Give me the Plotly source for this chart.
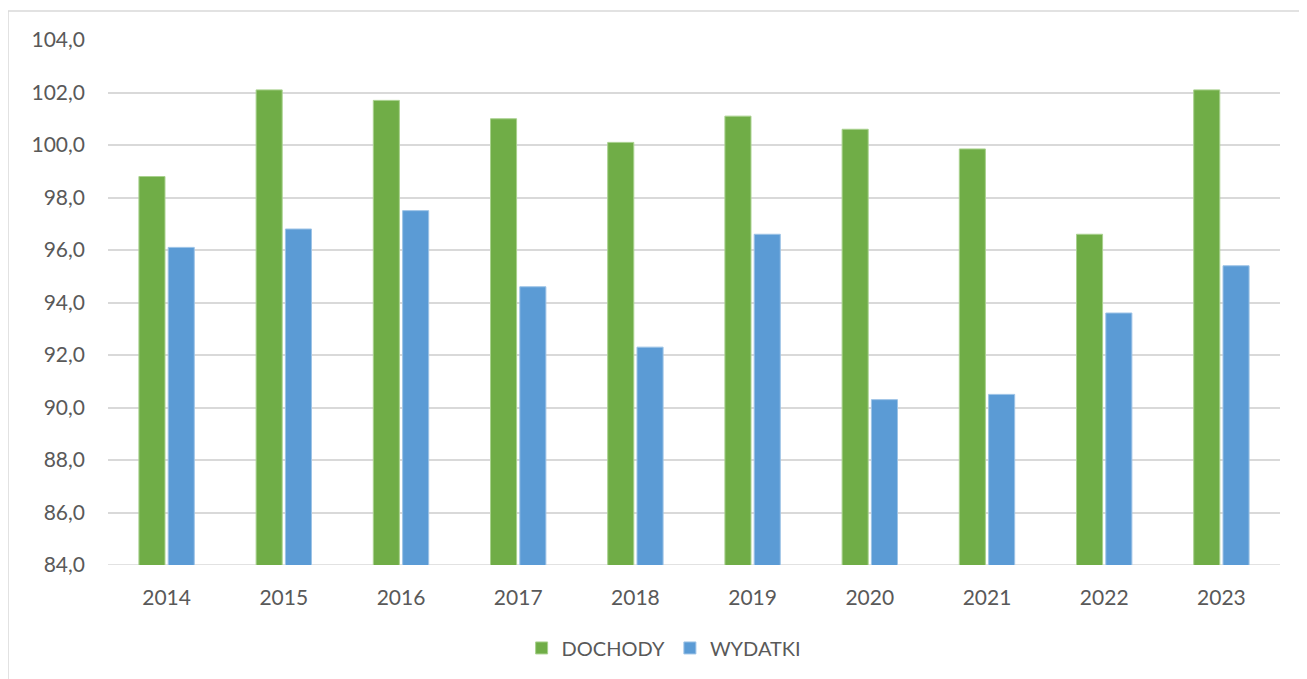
import plotly.graph_objects as go

years = ["2014", "2015", "2016", "2017", "2018", "2019", "2020", "2021", "2022", "2023"]
dochody = [98.8, 102.1, 101.7, 101.0, 100.1, 101.1, 100.6, 99.85, 96.6, 102.1]
wydatki = [96.1, 96.8, 97.5, 94.6, 92.3, 96.6, 90.3, 90.5, 93.6, 95.4]

font_family = "Lato, 'Open Sans', sans-serif"
txt = "#595959"

fig = go.Figure()
fig.add_trace(go.Bar(x=years, y=dochody, name="DOCHODY",
                     marker=dict(color="#70AD47", line=dict(color="#A9D18E", width=1))))
fig.add_trace(go.Bar(x=years, y=wydatki, name="WYDATKI",
                     marker=dict(color="#5B9BD5", line=dict(color="#9DC3E6", width=1))))

# body margin of 8px offsets the figure; compensate in margins
L, T, PW, PH = 100, 32, 1172, 525
fig.update_layout(
    width=1307, height=679,
    margin=dict(l=L, r=1307 - L - PW, t=T, b=679 - T - PH),
    paper_bgcolor="white", plot_bgcolor="white",
    barmode="group", bargap=0.5, bargroupgap=0.11,
    separators=",.",
    font=dict(family=font_family, size=21, color=txt),
    showlegend=True,
    legend=dict(orientation="h", x=0.4745, xanchor="center", y=-0.158, yanchor="middle",
                font=dict(size=20, color=txt), itemwidth=30, traceorder="normal"),
    xaxis=dict(showgrid=False, showline=False, ticks="", ticklabelstandoff=18,
               tickfont=dict(size=21, color=txt)),
    yaxis=dict(range=[84, 104], dtick=2, tickformat=".1f", showgrid=True,
               gridcolor="#d9d9d9", gridwidth=1.5, zeroline=False, showline=False,
               ticks="", ticklabelstandoff=22, tickfont=dict(size=21, color=txt)),
    shapes=[dict(type="rect", xref="paper", yref="paper",
                 x0=-100 / PW, x1=1.2, y0=-0.5, y1=(565 - 11) / PH,
                 line=dict(color="#d9d9d9", width=1.5), fillcolor="rgba(0,0,0,0)", layer="below")],
)
fig.add_shape(type="line", xref="paper", yref="y", x0=0, x1=1, y0=84, y1=84,
              line=dict(color="#d9d9d9", width=1.5), layer="below")

fig.write_html("out.html")
